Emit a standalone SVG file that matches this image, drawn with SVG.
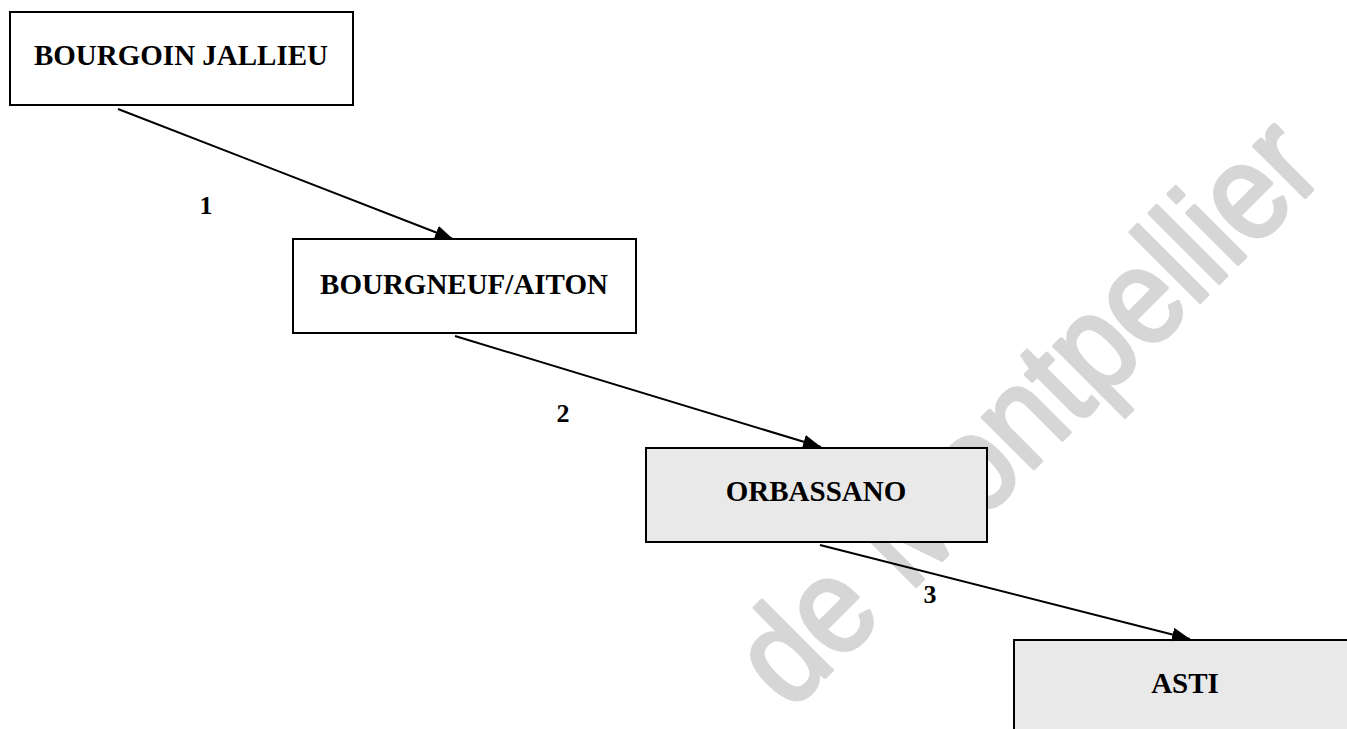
<svg xmlns="http://www.w3.org/2000/svg" width="1347" height="729" viewBox="0 0 1347 729">
  <style>
    .box { stroke: #000; stroke-width: 2; }
    .plain { fill: #fff; }
    .shaded { fill: #e9e9e9; }
    .lbl { font-family: "Liberation Serif", "Times New Roman", serif; font-weight: bold; font-size: 29px; fill: #000; text-anchor: middle; }
    .num { font-family: "Liberation Serif", "Times New Roman", serif; font-weight: bold; font-size: 26px; fill: #000; text-anchor: middle; }
    .edge { stroke: #000; stroke-width: 2; fill: none; marker-end: url(#arrow); }
    .wm { font-family: "Liberation Sans", Arial, sans-serif; font-size: 136px; fill: #d6d6d6; stroke: #d6d6d6; stroke-width: 4; stroke-linejoin: round; }
  </style>
  <defs>
    <marker id="arrow" markerUnits="userSpaceOnUse" markerWidth="18" markerHeight="14" refX="18" refY="7" orient="auto">
      <path d="M0,0 L18,7 L0,14 z" fill="#000"/>
    </marker>
  </defs>
  <rect width="1347" height="729" fill="#fff"/>

  <g id="watermark">
    <text class="wm" transform="translate(790,712) rotate(-45)" textLength="760" lengthAdjust="spacingAndGlyphs">de Montpellier</text>
  </g>

  <g id="node-bourgoin">
    <rect class="box plain" x="10" y="12" width="343" height="93"/>
    <text class="lbl" x="181" y="65">BOURGOIN JALLIEU</text>
  </g>
  <g id="node-bourgneuf">
    <rect class="box plain" x="293" y="239" width="343" height="94"/>
    <text class="lbl" x="464" y="294">BOURGNEUF/AITON</text>
  </g>
  <g id="node-orbassano">
    <rect class="box shaded" x="646" y="448" width="341" height="94"/>
    <text class="lbl" x="816" y="501">ORBASSANO</text>
  </g>
  <g id="node-asti">
    <rect class="box shaded" x="1014" y="640" width="343" height="94"/>
    <text class="lbl" x="1185" y="693">ASTI</text>
  </g>

  <g id="connectors">
    <line class="edge" x1="118" y1="109" x2="453" y2="239"/>
    <line class="edge" x1="455" y1="336" x2="821" y2="447"/>
    <line class="edge" x1="820" y1="545" x2="1190" y2="639"/>
    <text class="num" x="206" y="214">1</text>
    <text class="num" x="563" y="422">2</text>
    <text class="num" x="930" y="603">3</text>
  </g>
</svg>
